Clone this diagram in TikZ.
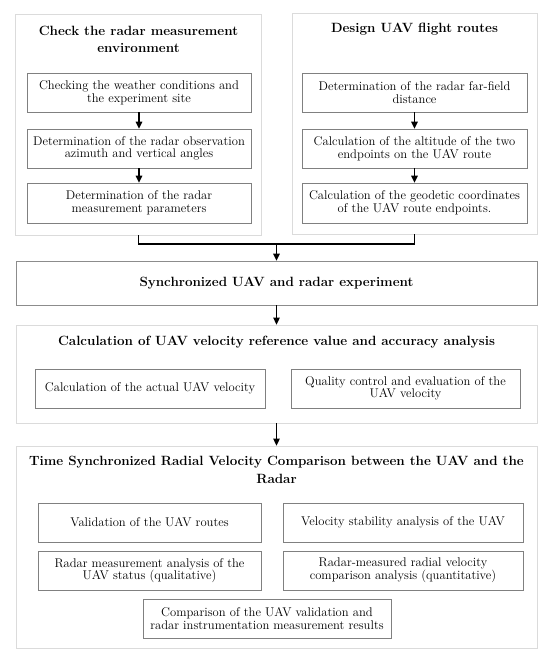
\documentclass[tikz,border=0pt]{standalone}
\usetikzlibrary{arrows.meta}
\begin{document}
\begin{tikzpicture}[x=1pt,y=-1pt,
  panel/.style={draw=black!14, line width=0.8pt, inner sep=0pt, anchor=center},
  inbox/.style={draw=black!50, line width=0.7pt, inner sep=0pt, align=center,
    font=\fontsize{12.6}{12.6}\selectfont},
  ttl/.style={inner sep=0pt, align=center, font=\fontsize{13.4}{17.5}\selectfont\bfseries},
  arr/.style={line width=1.3pt, -{Triangle[length=7pt,width=6.5pt]}},
  conn/.style={line width=1.3pt}]
\useasboundingbox (0,0) rectangle (550,657);
% panels
\node[panel, minimum width=245.5pt, minimum height=221pt] (lp) at (138.25,124.5) {};
\node[panel, minimum width=245pt, minimum height=221pt] (rp) at (414.5,123.5) {};
\node[ttl] (lt) at (138.5,39.5) {Check the radar measurement\\environment};
\node[ttl] (rt) at (414.5,29) {Design UAV flight routes};
% left boxes
\node[inbox, minimum width=224pt, minimum height=39pt] (l1) at (139,92.5) {Checking the weather conditions and\\the experiment site};
\node[inbox, minimum width=224pt, minimum height=39pt] (l2) at (139,148.5) {Determination of the radar observation\\azimuth and vertical angles};
\node[inbox, minimum width=224pt, minimum height=40pt] (l3) at (139,203) {Determination of the radar\\measurement parameters};
% right boxes
\node[inbox, minimum width=225pt, minimum height=39pt] (r1) at (414.5,92.5) {Determination of the radar far-field\\distance};
\node[inbox, minimum width=225pt, minimum height=39pt] (r2) at (414.5,148.5) {Calculation of the altitude of the two\\endpoints on the UAV route};
\node[inbox, minimum width=225pt, minimum height=40pt] (r3) at (414.5,203) {Calculation of the geodetic coordinates\\of the UAV route endpoints.};
\draw[arr] (l1) -- (l2);
\draw[arr] (l2) -- (l3);
\draw[arr] (r1) -- (r2);
\draw[arr] (r2) -- (r3);
% sync
\node[inbox, draw=black!45, minimum width=521pt, minimum height=44pt, font=\fontsize{13.4}{16}\selectfont\bfseries] (sy) at (276.5,283) {Synchronized UAV and radar experiment};
\coordinate (j) at (276.5,244);
\draw[conn] (lp.south) |- (j) -| (rp.south);
\draw[arr] (j) -- (sy.north);
% calc panel
\node[panel, minimum width=521pt, minimum height=98pt] (cp) at (276.5,374) {};
\node[ttl] (ct) at (276.5,342) {Calculation of UAV velocity reference value and accuracy analysis};
\node[inbox, minimum width=230pt, minimum height=39pt] (c1) at (150,388.5) {Calculation of the actual UAV velocity};
\node[inbox, minimum width=229pt, minimum height=39pt] (c2) at (405.5,388.5) {Quality control and evaluation of the\\UAV velocity};
\draw[arr] (sy.south) -- (cp.north);
% time panel
\node[panel, minimum width=521pt, minimum height=202pt] (tp) at (276.5,547) {};
\node[ttl] (tt) at (276.5,470) {Time Synchronized Radial Velocity Comparison between the UAV and the\\Radar};
\draw[arr] (cp.south) -- (tp.north);
\node[inbox, minimum width=223pt, minimum height=39pt] (t1) at (149.5,522.5) {Validation of the UAV routes};
\node[inbox, minimum width=240pt, minimum height=39pt] (t2) at (403,522.5) {Velocity stability analysis of the UAV};
\node[inbox, minimum width=223pt, minimum height=39pt] (t3) at (149.5,570.5) {Radar measurement analysis of the\\UAV status (qualitative)};
\node[inbox, minimum width=240pt, minimum height=39pt] (t4) at (403,570.5) {Radar-measured radial velocity\\comparison analysis (quantitative)};
\node[inbox, minimum width=248pt, minimum height=39pt] (t5) at (267,618.5) {Comparison of the UAV validation and\\radar instrumentation measurement results};
\end{tikzpicture}
\end{document}
